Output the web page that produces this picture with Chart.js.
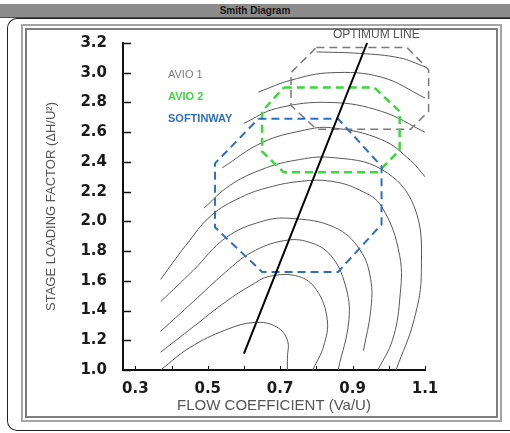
<!DOCTYPE html>
<html>
<head>
<meta charset="utf-8">
<title>Smith Diagram</title>
<script src="https://cdn.jsdelivr.net/npm/chart.js@4.4.0/dist/chart.umd.min.js"></script>
<style>
html, body { margin: 0; padding: 0; background: #fff; width: 510px; height: 433px; overflow: hidden; font-family: "Liberation Sans", Arial, sans-serif; }
#titlebar { position: absolute; left: 0; top: 4px; width: 510px; height: 13px; background: #8c8c8c; border-bottom: 1px solid #4a4a4a; text-align: center; font-size: 10px; font-weight: bold; line-height: 13px; color: #151515; }
#panel { position: absolute; left: 7px; top: 18px; width: 510px; height: 411px; border: 1px solid #222; border-right: none; border-radius: 10px 0 0 10px; }
#frame { position: absolute; left: 21px; top: 24px; width: 477px; height: 394px; border: 2px solid #a5a5a5; }
#frame2 { position: absolute; left: 25px; top: 28px; width: 469px; height: 386px; border: 2px solid #7d7d7d; }
canvas { position: absolute; left: 0; top: 0; }
.note { position: absolute; font-size: 11px; line-height: 13px; white-space: nowrap; }
</style>
</head>
<body>
<div id="titlebar">Smith Diagram</div>
<div id="panel"></div>
<div id="frame"></div>
<div id="frame2"></div>
<canvas id="chart" width="510" height="433"></canvas>
<div class="note" style="left:168px; top:68px; color:#7a7a7a;">AVIO 1</div>
<div class="note" style="left:168px; top:90px; color:#3ad83a; font-weight:bold;">AVIO 2</div>
<div class="note" style="left:168px; top:112px; color:#2f6fc0; font-weight:bold;">SOFTINWAY</div>
<div class="note" style="left:333px; top:28px; color:#555; font-size:12px;">OPTIMUM LINE</div>
<script>
// axis setup
var xMin = 0.266, xMax = 1.1;
var yMin = 1.0, yMax = 3.2;
var xTicks = [0.3, 0.5, 0.7, 0.9, 1.1];
var xMinorTicks = [0.3, 0.4, 0.5, 0.6, 0.7, 0.8, 0.9, 1.0, 1.1];
var yTicks = [1.0, 1.2, 1.4, 1.6, 1.8, 2.0, 2.2, 2.4, 2.6, 2.8, 3.0, 3.2];

// efficiency contours, [flow coefficient, stage loading]
var contour1 = [[0.37,1.00],[0.45,1.15],[0.55,1.27],[0.63,1.32],[0.69,1.29],[0.72,1.20],[0.72,1.08],[0.72,1.00]];
var contour2 = [[0.37,1.12],[0.46,1.29],[0.55,1.46],[0.62,1.57],[0.67,1.63],[0.75,1.63],[0.80,1.54],[0.83,1.34],[0.82,1.16],[0.79,1.00]];
var contour3 = [[0.37,1.26],[0.46,1.46],[0.55,1.66],[0.62,1.79],[0.71,1.87],[0.78,1.86],[0.84,1.77],[0.88,1.57],[0.89,1.34],[0.86,1.00]];
var contour4 = [[0.37,1.46],[0.46,1.67],[0.55,1.89],[0.65,2.00],[0.73,2.02],[0.85,1.96],[0.92,1.81],[0.95,1.61],[0.95,1.40],[0.93,1.13]];
var contour5 = [[0.37,1.61],[0.44,1.84],[0.51,2.04],[0.59,2.16],[0.67,2.23],[0.76,2.27],[0.84,2.27],[0.92,2.21],[0.98,2.10],[1.03,1.77],[1.03,1.47],[1.01,1.20],[0.97,1.00]];
var contour6 = [[0.49,2.09],[0.56,2.24],[0.65,2.35],[0.74,2.41],[0.84,2.43],[0.98,2.35],[1.07,2.10],[1.09,1.67],[1.07,1.34],[1.02,1.00]];
var contour7 = [[0.54,2.36],[0.65,2.53],[0.76,2.61],[0.84,2.63],[0.98,2.55],[1.06,2.41],[1.10,2.30]];
var contour8 = [[0.60,2.66],[0.69,2.76],[0.84,2.80],[0.98,2.74],[1.10,2.60]];
var contour9 = [[0.64,2.87],[0.73,2.95],[0.84,3.00],[0.98,2.97],[1.10,2.83]];
var contour10 = [[0.80,3.14],[0.92,3.13],[1.03,3.10],[1.10,3.04]];

// design regions
var avio1 = [[0.80,3.17],[1.05,3.17],[1.11,3.02],[1.11,2.74],[1.06,2.62],[0.80,2.62],[0.73,2.78],[0.73,3.00]];
var avio2 = [[0.71,2.90],[0.96,2.90],[1.03,2.74],[1.03,2.48],[0.97,2.33],[0.71,2.33],[0.65,2.47],[0.65,2.74]];
var softinway = [[0.64,2.69],[0.86,2.69],[0.98,2.37],[0.98,1.98],[0.86,1.66],[0.65,1.66],[0.52,1.96],[0.52,2.39]];

var optimumLine = [[0.60,1.11],[0.94,3.20]];

function toXY(points, closed) {
    var out = points.map(function (p) { return {x: p[0], y: p[1]}; });
    if (closed) {
        out.push({x: points[0][0], y: points[0][1]});
    }
    return out;
}

function regionSet(label, points, color, width) {
    return {
        label: label,
        data: toXY(points, true),
        borderColor: color,
        borderWidth: width,
        borderDash: [8, 5],
        tension: 0,
        showLine: true,
        pointRadius: 0,
        clip: false
    };
}

function contourSet(name, points) {
    return {
        label: name,
        data: toXY(points, false),
        borderColor: '#585858',
        borderWidth: 1,
        tension: 0.4,
        showLine: true,
        pointRadius: 0,
        clip: false
    };
}

var innerTicks = {
    id: 'innerTicks',
    afterDraw: function (chart) {
        var ctx = chart.ctx;
        var xs = chart.scales.x, ys = chart.scales.y;
        ctx.save();
        ctx.strokeStyle = '#111';
        ctx.lineWidth = 1.5;
        yTicks.forEach(function (v) {
            var py = Math.round(ys.getPixelForValue(v)) + 0.5;
            ctx.beginPath();
            ctx.moveTo(xs.left, py);
            ctx.lineTo(xs.left + 8, py);
            ctx.stroke();
        });
        ctx.lineWidth = 1;
        xMinorTicks.forEach(function (v) {
            var px = Math.round(xs.getPixelForValue(v)) + 0.5;
            ctx.beginPath();
            ctx.moveTo(px, ys.bottom);
            ctx.lineTo(px, ys.bottom - 4);
            ctx.stroke();
        });
        ctx.restore();
    }
};

var datasets = [
    {label: 'Optimum line', data: toXY(optimumLine, false), borderColor: '#000', borderWidth: 2, showLine: true, pointRadius: 0, clip: false},
    regionSet('SOFTINWAY', softinway, '#2f6fc0', 2),
    regionSet('AVIO 2', avio2, '#3ad83a', 2.5),
    regionSet('AVIO 1', avio1, '#7a7a7a', 1.5),
    contourSet('c1', contour1),
    contourSet('c2', contour2),
    contourSet('c3', contour3),
    contourSet('c4', contour4),
    contourSet('c5', contour5),
    contourSet('c6', contour6),
    contourSet('c7', contour7),
    contourSet('c8', contour8),
    contourSet('c9', contour9),
    contourSet('c10', contour10)
];

new Chart(document.getElementById('chart'), {
    type: 'scatter',
    data: {datasets: datasets},
    plugins: [innerTicks],
    options: {
        responsive: false,
        animation: false,
        devicePixelRatio: 1,
        layout: {padding: {left: 30, top: 43, right: 85, bottom: 13}},
        plugins: {legend: {display: false}, tooltip: {enabled: false}},
        scales: {
            x: {
                type: 'linear',
                min: xMin,
                max: xMax,
                afterFit: function (s) { s.height = 50; },
                afterBuildTicks: function (s) { s.ticks = xTicks.map(function (v) { return {value: v}; }); },
                grid: {display: false},
                border: {display: true, color: '#111', width: 2},
                ticks: {
                    padding: 2,
                    color: '#1a1a1a',
                    font: {family: 'DejaVu Sans', size: 15, weight: 'bold'},
                    callback: function (v) { return v.toFixed(1); }
                },
                title: {
                    display: true,
                    text: 'FLOW COEFFICIENT (Va/U)',
                    color: '#555',
                    font: {family: 'Liberation Sans', size: 15},
                    padding: {top: 0, bottom: 5}
                }
            },
            y: {
                type: 'linear',
                min: yMin,
                max: yMax,
                afterFit: function (s) { s.width = 93; },
                afterBuildTicks: function (s) { s.ticks = yTicks.map(function (v) { return {value: v}; }); },
                grid: {display: false},
                border: {display: true, color: '#111', width: 2},
                ticks: {
                    padding: 8,
                    color: '#1a1a1a',
                    font: {family: 'DejaVu Sans', size: 15, weight: 'bold'},
                    callback: function (v) { return v.toFixed(1); }
                },
                title: {
                    display: true,
                    text: 'STAGE LOADING FACTOR (\u0394H/U\u00b2)',
                    color: '#555',
                    font: {family: 'Liberation Sans', size: 13},
                    padding: {top: 14, bottom: 0}
                }
            }
        }
    }
});
</script>
</body>
</html>
